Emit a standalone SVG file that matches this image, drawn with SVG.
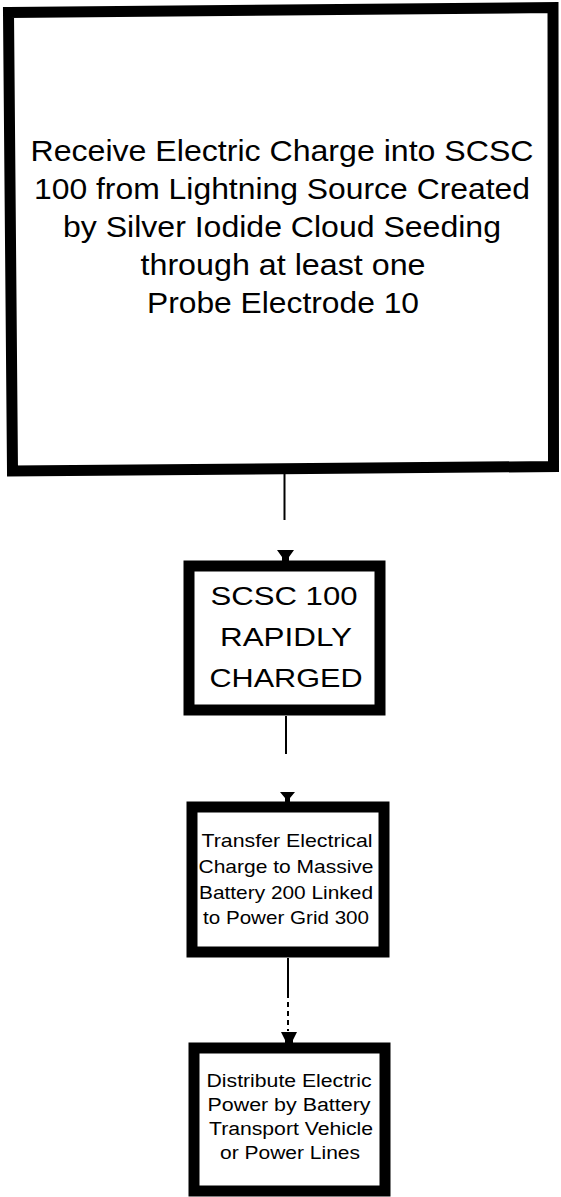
<svg xmlns="http://www.w3.org/2000/svg" width="561" height="1197" viewBox="0 0 561 1197">
<style>
.box{fill:#fff;stroke:#000;stroke-width:11;stroke-linejoin:miter}
.t{font-family:"Liberation Sans",Arial,sans-serif;fill:#000;text-anchor:middle}
.c{stroke:#000;stroke-width:2;fill:none}
.ah{fill:#000}
</style>
<rect width="561" height="1197" fill="#fff"/>
<g id="connectors">
<line class="c" x1="284.5" y1="474" x2="284.5" y2="520"/>
<polygon class="ah" points="277,550 294,550 289,557 289,562 282,562 282,557"/>
<line class="c" x1="286" y1="716" x2="286" y2="754"/>
<polygon class="ah" points="280,792 295,792 290,798 290,803 285,803 285,798"/>
<line class="c" x1="288" y1="958" x2="288" y2="993"/>
<line class="c" x1="288" y1="993" x2="288" y2="1031" stroke-dasharray="5 4"/>
<polygon class="ah" points="281,1032 297,1032 293,1040 293,1044 285,1044 285,1040"/>
</g>
<g id="node1">
<polygon class="box" points="8.5,12.5 553,7.5 553.5,466.5 12.5,471"/>
<text class="t" font-size="29" x="282" y="161" textLength="503" lengthAdjust="spacingAndGlyphs">Receive Electric Charge into SCSC</text>
<text class="t" font-size="29" x="282" y="199" textLength="496" lengthAdjust="spacingAndGlyphs">100 from Lightning Source Created</text>
<text class="t" font-size="29" x="282" y="237" textLength="438" lengthAdjust="spacingAndGlyphs">by Silver Iodide Cloud Seeding</text>
<text class="t" font-size="29" x="283" y="275" textLength="285" lengthAdjust="spacingAndGlyphs">through at least one</text>
<text class="t" font-size="29" x="283" y="313" textLength="272" lengthAdjust="spacingAndGlyphs">Probe Electrode 10</text>
</g>
<g id="node2">
<rect class="box" x="189" y="566" width="191" height="144"/>
<text class="t" font-size="25" x="284" y="605" textLength="147" lengthAdjust="spacingAndGlyphs">SCSC 100</text>
<text class="t" font-size="25" x="286" y="646" textLength="132" lengthAdjust="spacingAndGlyphs">RAPIDLY</text>
<text class="t" font-size="25" x="286" y="687" textLength="153" lengthAdjust="spacingAndGlyphs">CHARGED</text>
</g>
<g id="node3">
<rect class="box" x="192" y="807" width="192" height="145"/>
<text class="t" font-size="19" x="287" y="847" textLength="171" lengthAdjust="spacingAndGlyphs">Transfer Electrical</text>
<text class="t" font-size="19" x="286" y="873" textLength="175" lengthAdjust="spacingAndGlyphs">Charge to Massive</text>
<text class="t" font-size="19" x="286" y="899" textLength="174" lengthAdjust="spacingAndGlyphs">Battery 200 Linked</text>
<text class="t" font-size="19" x="286" y="924" textLength="166" lengthAdjust="spacingAndGlyphs">to Power Grid 300</text>
</g>
<g id="node4">
<rect class="box" x="194" y="1048" width="191" height="143"/>
<text class="t" font-size="18" x="289" y="1087" textLength="165" lengthAdjust="spacingAndGlyphs">Distribute Electric</text>
<text class="t" font-size="18" x="289" y="1111" textLength="163" lengthAdjust="spacingAndGlyphs">Power by Battery</text>
<text class="t" font-size="18" x="291" y="1135" textLength="164" lengthAdjust="spacingAndGlyphs">Transport Vehicle</text>
<text class="t" font-size="18" x="290" y="1159" textLength="140" lengthAdjust="spacingAndGlyphs">or Power Lines</text>
</g>
</svg>
